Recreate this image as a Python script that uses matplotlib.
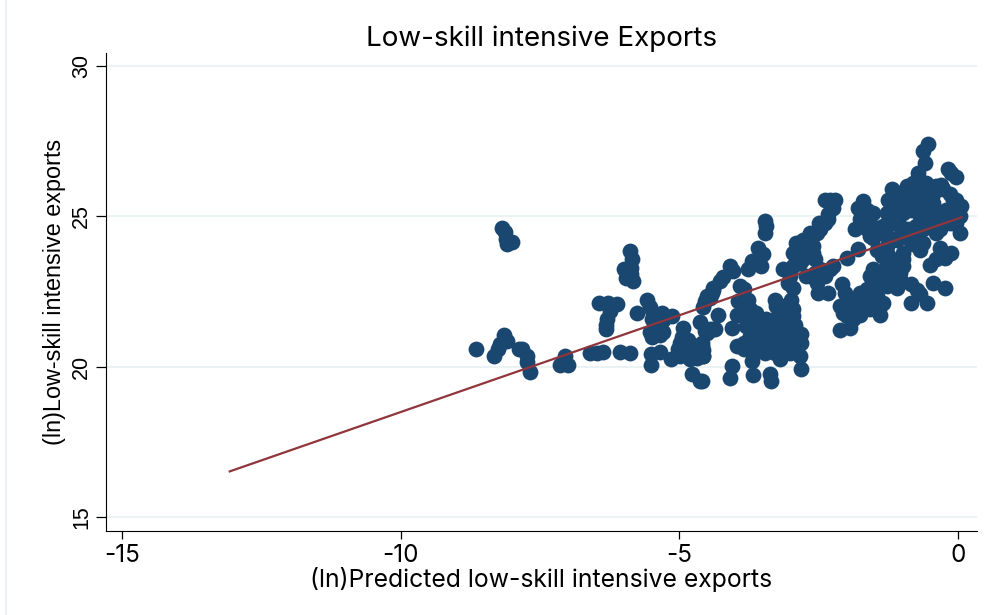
import matplotlib
matplotlib.use('Agg')
import matplotlib.pyplot as plt
from matplotlib.lines import Line2D

plt.rcParams['font.family'] = ['Liberation Sans', 'DejaVu Sans']

### scatter values, one pair of lists per region
x_far_left = [-8.19, -8.13, -8.11, -8.0, -8.1, -8.65, -8.33, -8.22, -8.15, -8.1, -8.26, -7.88, -7.83, -7.74, -7.74, -7.68,
              -7.06, -7.09, -7.15, -7.0, -6.6, -6.48, -6.37, -6.07, -5.89]
y_far_left = [24.63, 24.47, 24.24, 24.14, 24.07, 20.58, 20.35, 20.75, 21.05, 20.85, 20.58, 20.58, 20.58, 20.38, 20.15, 19.82,
              20.35, 20.15, 20.05, 20.05, 20.48, 20.48, 20.5, 20.5, 20.48]

x_mid_left = [-6.45, -6.28, -6.12, -6.25, -6.3, -6.32, -6.32, -5.89, -5.85, -5.87, -6.0, -5.95, -5.83, -5.87, -5.76,
              -5.58, -5.53, -5.47, -5.31, -5.13, -5.49, -5.3, -5.4, -5.53, -5.3, -5.49, -5.51, -5.35, -5.51,
              -5.15, -5.03, -4.93, -4.95, -4.99, -4.85, -4.81, -4.68, -4.58, -4.6, -4.58, -4.78, -4.63,
              -4.63, -4.54, -4.4, -4.58, -4.45, -4.4, -4.27,
              -4.9, -4.68, -4.99, -5.45, -5.35, -5.4]
y_mid_left = [22.14, 22.14, 22.1, 21.85, 21.58, 21.25, 21.4, 23.84, 23.57, 23.3, 23.24, 22.97, 22.85, 23.1, 21.78,
              22.24, 22.0, 21.8, 21.8, 21.68, 21.58, 21.55, 21.3, 21.15, 21.15, 21.0, 20.42, 20.5, 20.05,
              20.25, 20.58, 21.3, 21.0, 20.8, 20.9, 20.25, 20.3, 20.35, 20.68, 20.55, 19.78, 19.52,
              21.48, 21.18, 21.25, 22.0, 22.3, 22.57, 22.85,
              20.58, 20.68, 20.35, 21.05, 21.05, 21.45]

x_centre = [-4.03, -4.21, -4.39, -4.51, -4.3, -4.45, -4.36, -4.6, -4.57, -4.6, -3.91, -3.94, -3.77, -3.97, -4.06,
            -3.59, -3.5, -3.7, -3.77, -3.53, -3.47, -3.44, -3.47,
            -3.62, -3.8, -3.97, -3.85, -3.65, -3.5, -3.68, -3.44, -3.26, -3.29, -3.14, -3.23, -3.38, -3.53,
            -3.08, -2.96, -2.99, -2.96, -3.05, -2.93, -2.81, -2.81, -2.99, -2.84, -3.02, -3.2, -3.7,
            -4.06, -4.09, -3.68, -3.38, -3.36, -2.82, -3.17,
            -3.73, -3.85, -3.62, -3.44, -3.32, -3.2, -3.08, -3.38, -3.2, -3.02, -2.9, -3.08, -3.29, -3.47, -3.68,
            -2.9, -3.11, -2.96, -3.73, -3.53, -3.29, -3.85, -3.73, -3.85, -4.09, -4.42, -4.54, -4.51]
y_centre = [23.18, 23.0, 22.63, 22.35, 21.74, 21.25, 21.25, 20.8, 20.36, 19.53, 22.68, 22.19, 22.24, 21.74, 21.28,
            23.96, 23.74, 23.52, 23.24, 23.35, 24.84, 24.68, 24.46,
            21.8, 21.36, 20.69, 20.58, 20.91, 21.13, 21.25, 21.58, 22.02, 21.58, 21.36, 21.03, 20.69, 20.69,
            21.69, 21.91, 22.24, 22.63, 22.8, 21.41, 21.08, 20.8, 20.91, 20.36, 20.47, 20.25, 20.2,
            20.03, 19.64, 19.72, 19.75, 19.53, 19.92, 20.47,
            21.02, 20.8, 21.36, 21.25, 21.36, 21.69, 21.47, 21.02, 20.8, 21.14, 21.14, 20.69, 20.47, 20.47, 20.47,
            20.58, 22.02, 21.69, 21.58, 21.58, 22.24, 22.02, 21.91, 22.58, 23.35, 22.46, 22.19, 21.14]

x_strand = [-3.14, -2.9, -2.78, -2.66, -2.54, -2.6, -2.57, -2.84, -2.72, -2.39, -2.33, -2.3, -2.24, -2.39, -2.21,
            -2.66, -2.54, -2.51, -2.33, -2.39, -2.24, -2.0, -1.79,
            -2.9, -2.81, -2.96, -2.66, -2.6, -2.78, -2.96, -3.02, -2.72, -2.48, -2.3, -2.57, -2.48, -2.33, -2.5]
y_strand = [23.24, 23.68, 24.23, 24.46, 24.46, 23.79, 23.57, 23.46, 23.79, 24.79, 25.07, 25.56, 25.29, 25.56, 25.56,
            23.02, 22.8, 22.46, 22.46, 23.02, 23.35, 23.63, 23.92,
            24.12, 24.01, 23.79, 24.12, 24.01, 23.57, 23.35, 23.02, 23.02, 23.24, 23.24, 23.13, 24.57, 24.9, 24.79]

x_lower_right = [-2.09, -2.03, -2.12, -1.94, -1.76, -1.58, -1.46, -1.34, -1.4, -1.76, -2.0, -1.94, -2.11, -1.58,
                 -1.37, -1.1, -1.05, -1.28, -1.1, -0.84, -0.74, -0.84, -0.55, -0.69, -0.45, -0.24,
                 -0.5, -0.39, -0.33, -0.12, -0.24,
                 -1.88, -1.7, -1.58, -1.46, -1.64, -1.82, -2.06, -2.0, -1.4, -1.22, -1.16, -1.52, -1.04, -1.28, -0.98,
                 -1.4, -1.52, -1.88]
y_lower_right = [22.74, 22.46, 22.02, 22.19, 22.46, 23.02, 22.69, 22.13, 21.74, 21.74, 21.69, 21.3, 21.22, 22.24,
                 23.18, 23.35, 22.91, 22.69, 22.63, 22.74, 22.57, 22.11, 22.13, 22.41, 22.8, 22.63,
                 23.4, 23.57, 23.96, 23.79, 23.63,
                 21.91, 22.02, 21.91, 22.35, 22.58, 22.24, 21.8, 22.02, 22.91, 23.13, 23.46, 23.24, 23.13, 23.35, 23.35,
                 22.02, 22.08, 21.58]

x_upper_right = [-1.7, -1.79, -1.52, -1.76, -1.58, -1.85, -1.58, -1.34, -1.19, -1.25, -1.1, -1.22, -1.28, -1.46, -1.28,
                 -1.04, -0.89, -0.8, -0.92, -0.71, -0.6, -0.63, -0.54, -0.74, -0.57, -0.92, -0.69, -0.51,
                 -0.39, -0.27, -0.12, -0.03, -0.18, -0.45, -0.21, -0.03, 0.06, 0.03, 0.03, -0.09, -0.33, -0.63,
                 -0.8, -0.69, -1.19, -0.98, -0.45, -0.15, -0.09, -0.84,
                 -1.04, -0.8, -1.04, -1.28, -0.75, -0.86, -0.63, -0.51, -0.75, -0.39, -0.15, -0.33, -0.69, -0.45,
                 -0.57, -0.69, -0.21, -0.09, -0.45, -0.3, -1.16, -0.98, -1.28, -1.46, -1.64, -1.64, -1.52, -1.28,
                 -1.1, -1.37, -0.98, -0.8, -0.03]
y_upper_right = [25.51, 25.29, 25.12, 24.9, 24.79, 24.57, 24.35, 24.68, 25.9, 25.56, 25.34, 25.01, 24.35, 23.9, 23.79,
                 24.35, 24.57, 26.12, 26.0, 26.45, 26.78, 27.17, 27.42, 25.56, 25.78, 25.34, 25.01, 25.34,
                 26.0, 25.9, 26.45, 26.32, 26.56, 24.9, 25.01, 25.56, 25.34, 25.01, 24.46, 24.79, 24.57, 24.57,
                 24.07, 23.9, 23.57, 23.57, 25.45, 25.73, 25.23, 25.23,
                 25.78, 25.67, 24.68, 25.12, 24.35, 24.23, 24.12, 24.79, 24.68, 24.46, 24.79, 25.01, 25.34, 25.12,
                 26.12, 25.9, 25.23, 25.56, 25.73, 26.06, 25.56, 25.12, 24.68, 24.46, 25.23, 24.57, 24.29, 24.01,
                 24.23, 23.68, 23.79, 24.46, 24.79]

fit_x = [-13.07, 0.06]
fit_y = [16.53, 24.97]

x_ticks = [-15, -10, -5, 0]
y_ticks = [15, 20, 25, 30]
x_tick_labels = ['-15', '-10', '-5', '0']

x_all = x_far_left + x_mid_left + x_centre + x_strand + x_lower_right + x_upper_right
y_all = y_far_left + y_mid_left + y_centre + y_strand + y_lower_right + y_upper_right

### Plot figure
fig = plt.figure(figsize=(9.92, 6.15), dpi=100)
ax = fig.add_axes([106/992, 1-531/615, (977-106)/992, (531-53)/615])

ax.scatter(x_all, y_all, s=130, color='#1a476f', linewidths=0, zorder=3)
ax.plot(fit_x, fit_y, color='#90353b', linewidth=1.6, zorder=4)

ax.set_xlim(-15.29, 0.34)
ax.set_ylim(14.55, 30.43)
ax.set_xticks(x_ticks)
ax.set_xticklabels(x_tick_labels, family='Inter', fontsize=17.5)
ax.set_yticks(y_ticks)
ax.yaxis.grid(True, color='#eaf2f3', linewidth=1.5)
ax.set_axisbelow(True)
ax.spines['top'].set_visible(False)
ax.spines['right'].set_visible(False)
ax.tick_params(axis='x', length=6, width=0.9, pad=3)
ax.tick_params(axis='y', labelsize=15.5, length=7, width=0.9, pad=3)
plt.setp(ax.get_yticklabels(), rotation=90, va='center')

ax.set_xlabel('(ln)Predicted low-skill intensive exports', family='Inter', fontsize=17.8, labelpad=0)
ax.set_ylabel('(ln)Low-skill intensive exports', fontsize=16.8, labelpad=4)
ax.set_title('Low-skill intensive Exports', family='Inter', fontsize=20, pad=5)

### faint edge of the exported page
fig.add_artist(Line2D([6/992, 6/992], [0, 1], color='#eaf2f3', linewidth=1.5))

plt.savefig('out.png', dpi=100)
